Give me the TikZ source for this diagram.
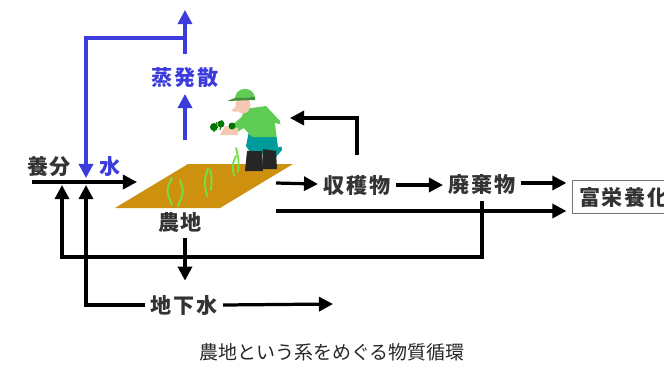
\documentclass[tikz,border=0pt]{standalone}
\usepackage{fontspec}
\newfontfamily\jplabel[LetterSpace=7]{Noto Sans CJK JP}
\newfontfamily\jpcap{Noto Sans CJK JP}
\usetikzlibrary{arrows.meta, positioning}
\definecolor{flowblue}{RGB}{60, 60, 220}
\definecolor{soilbrown}{RGB}{205, 145, 15}
\definecolor{grassgreen}{RGB}{115, 225, 70}
\definecolor{shirtgreen}{RGB}{95, 205, 85}
\definecolor{pantsteal}{RGB}{0, 155, 155}
\definecolor{skin}{RGB}{245, 200, 180}

\begin{document}
\begin{tikzpicture}[x=0.025cm, y=-0.025cm,
    flow/.style={line width=2.3pt, -{Triangle[length=10pt, width=10pt]}},
    blueflow/.style={flow, flowblue},
    lbl/.style={font=\jplabel\bfseries\fontsize{15}{17}\selectfont, text=black!80, inner sep=4pt},
    bluelbl/.style={lbl, text=flowblue}]

  \clip (0,0) rectangle (664,364);

  % field plot
  \fill[soilbrown] (188,164) -- (293,164) -- (220,208) -- (115,208) -- cycle;
  \draw[grassgreen, line width=1.3pt, line cap=round]
    (172,205) .. controls (166,190) .. (172,178)
    (178,206) .. controls (184,192) .. (180,180)
    (207,196) .. controls (204,182) .. (208,168)
    (211,190) .. controls (212,178) .. (210,170)
    (234,176) .. controls (232,165) .. (236,156)
    (238,172) .. controls (239,160) .. (236,148);

  % farmer
  \fill[pantsteal] (249,131) -- (279,131) -- (282,150) -- (275,158) -- (266,152)
    -- (254,158) -- (246,146) -- cycle;
  \fill[black!85] (247,151) -- (262,151) -- (263,171) -- (245,171) -- cycle;
  \fill[black!85] (263,149) -- (276,151) -- (277,169) -- (262,169) -- cycle;
  \fill[shirtgreen] (244,109) -- (266,106) -- (280,121) -- (282,137) -- (252,137)
    -- (240,124) -- cycle;
  \fill[white] (275,123) -- (283,125) -- (285,146) -- (278,147) -- cycle;
  \fill[shirtgreen] (246,113) -- (253,122) -- (236,133) -- (229,128) -- cycle;
  \fill[skin] (225,126) -- (238,128) -- (238,135) -- (220,135) -- cycle;
  \fill[skin] (243,105) ellipse (7.5 and 8.5);
  \fill[skin] (236,106) -- (231,111) -- (237,112) -- cycle;
  \fill[shirtgreen] (235,98) .. controls (236,86) and (253,86) .. (255,97) -- cycle;
  \fill[shirtgreen!70!black] (235,98) -- (255,97) -- (255,100) -- (227,101) -- cycle;
  \fill[green!45!black] (214,127) circle (4) (221,124) circle (3.5) (232,126) circle (3.5);
  \draw[green!50!black, line width=0.8pt] (217,122) -- (214,132) (222,120) -- (220,130);

  % text labels
  \node[lbl] (yobun) at (49,167) {養分};
  \node[bluelbl] (mizu) at (110,166) {水};
  \node[bluelbl] (joha) at (185,78) {蒸発散};
  \node[lbl] (nouchi) at (180,222) {農地};
  \node[lbl] (chika) at (184,305) {地下水};
  \node[lbl] (shukaku) at (357,185) {収穫物};
  \node[lbl] (haiki) at (482,185) {廃棄物};
  \node[lbl, draw=black!55, line width=0.5pt, anchor=west, minimum height=23pt,
        inner xsep=5pt] (fueiyo) at (572,197) {富栄養化};
  \node[font=\jpcap\fontsize{13.5}{15}\selectfont, text=black!85] (caption) at (332,352)
    {農地という系をめぐる物質循環};

  % end points of the flows
  \coordinate (etTop) at (185,10);
  \coordinate (etSplit) at (185,38);
  \coordinate (waterDown) at (86,178);
  \coordinate (plantTop) at (185,140);
  \coordinate (inStart) at (32,182);
  \coordinate (inEnd) at (137,182);
  \coordinate (nutrIn) at (62,185);
  \coordinate (waterIn) at (86,185);
  \coordinate (loopY) at (0,257);
  \coordinate (gwOut) at (333,304);
  \coordinate (fieldE) at (276,183);
  \coordinate (fieldLow) at (276,211);
  \coordinate (farmerBack) at (290,118);

  % water: rain in, evapotranspiration out
  \draw[blueflow] ([yshift=6pt]joha.north) -- (etTop);
  \draw[blueflow] (etSplit) -| (waterDown);
  \draw[blueflow] (plantTop) -- (joha.south);

  % nutrients and water into the field
  \draw[flow] (inStart) -- (inEnd);
  \draw[flow] (haiki.south) |- (loopY -| nutrIn) -- (nutrIn);
  \draw[flow] (chika.west) -| (waterIn);

  % field outputs
  \draw[flow, shorten >=6pt] (nouchi.south -| etTop) -- (chika.north -| etTop);
  \draw[flow] (chika.east) -- (gwOut);
  \draw[flow] (fieldE) -- (shukaku);
  \draw[flow] (shukaku) -- (haiki);
  \draw[flow, shorten >=4pt] (haiki.east |- fieldE) -- (fueiyo.west |- fieldE);
  \draw[flow, shorten >=4pt] (fieldLow) -- (fueiyo.west |- fieldLow);
  \draw[flow] ([yshift=10pt]shukaku.north) |- (farmerBack);
\end{tikzpicture}
\end{document}
